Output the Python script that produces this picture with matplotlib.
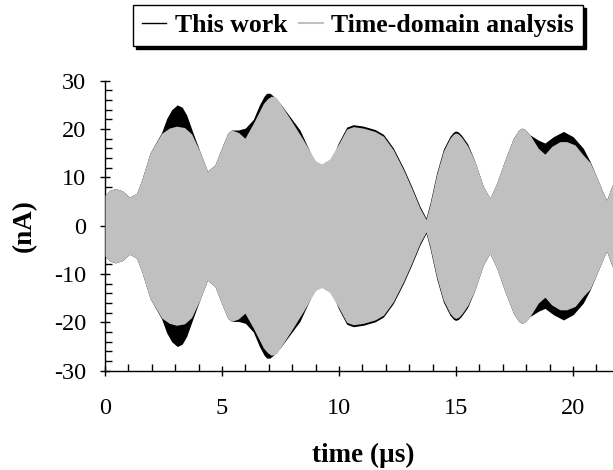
import matplotlib
matplotlib.use("Agg")
import matplotlib.pyplot as plt
from matplotlib.lines import Line2D
from matplotlib.ticker import MultipleLocator

# Upper envelope of the oscillating current (time in µs, current in nA).
# The waveform is symmetric, so the lower envelope is the negative of it.
t_work = [0.0, 0.2, 0.45, 0.75, 1.05, 1.35, 1.57, 1.92, 2.42, 2.64, 2.85,
          3.09, 3.3, 3.49, 3.77, 4.06, 4.38, 4.7, 5.06, 5.25, 5.41, 5.7,
          6.0, 6.34, 6.6, 6.8, 6.91, 7.05, 7.2, 7.5, 7.9, 8.33, 8.76,
          9.05, 9.33, 9.62, 9.97, 10.33, 10.61, 11.04, 11.54, 11.9, 12.32,
          12.75, 13.1, 13.46, 13.72, 13.89, 14.17, 14.46, 14.74, 14.88,
          14.98, 15.1, 15.24, 15.5, 15.81, 16.17, 16.45, 16.74, 17.09,
          17.45, 17.68, 17.81, 17.95, 18.16, 18.52, 18.8, 19.16, 19.59,
          20.01, 20.44, 20.73, 21.01, 21.3, 21.44, 21.65, 21.9]
i_work = [6.3, 7.3, 7.7, 7.2, 5.9, 6.7, 9.5, 15.0, 19.3, 22.2, 24.0,
          25.0, 24.5, 22.9, 19.1, 15.3, 11.3, 12.6, 17.0, 19.2, 19.8, 19.8,
          20.2, 22.0, 25.0, 26.8, 27.4, 27.4, 26.8, 25.2, 22.6, 19.8, 15.3,
          11.5, 9.1, 12.9, 17.1, 20.4, 20.9, 20.6, 19.9, 18.9, 16.1,
          12.0, 8.2, 4.0, 1.6, 4.7, 10.9, 15.8, 18.5, 19.3,
          19.6, 19.4, 18.7, 16.9, 13.3, 8.1, 5.7, 8.8, 13.6,
          18.1, 19.8, 20.2, 19.9, 18.8, 17.7, 17.1, 18.4, 19.5,
          18.4, 16.0, 13.3, 10.1, 6.7, 5.3, 8.1, 11.0]

t_tda = [0.0, 0.2, 0.45, 0.75, 1.05, 1.35, 1.57, 1.92, 2.42, 2.75, 3.06,
         3.4, 3.7, 4.06, 4.38, 4.7, 5.06, 5.25, 5.41, 5.7, 5.98, 6.34,
         6.77, 6.95, 7.1, 7.25, 7.34, 7.9, 8.48, 9.0, 9.26, 9.6, 9.97,
         10.33, 10.61, 11.04, 11.54, 11.9, 12.32, 12.75, 13.1, 13.46,
         13.72, 13.89, 14.17, 14.46, 14.74, 14.88, 14.98, 15.1, 15.24,
         15.5, 15.81, 16.17, 16.45, 16.74, 17.09, 17.45, 17.68, 17.81,
         17.95, 18.16, 18.52, 18.8, 19.09, 19.44, 19.73, 20.09, 20.44,
         20.73, 21.01, 21.3, 21.44, 21.65, 21.9]
i_tda = [6.3, 7.3, 7.7, 7.2, 5.9, 6.7, 9.5, 15.0, 19.1, 20.2, 20.6,
         20.3, 19.0, 15.3, 11.3, 12.6, 17.0, 19.2, 19.8, 19.3, 18.1, 21.2,
         25.3, 26.3, 26.8, 26.7, 26.4, 22.2, 17.7, 13.4, 12.8, 13.8, 16.8,
         20.0, 20.5, 20.2, 19.5, 18.5, 15.7, 11.6, 7.8, 3.6,
         1.3, 4.3, 10.5, 15.4, 18.1, 18.9, 19.2, 19.0, 18.3,
         16.5, 13.3, 8.1, 5.7, 8.8, 13.6, 18.1, 19.8, 20.2,
         19.9, 18.8, 16.0, 14.8, 16.4, 17.4, 17.4, 16.7, 14.6,
         13.1, 10.1, 6.7, 5.3, 8.1, 11.0]

labels = ["This work", "Time-domain analysis"]
colors = ["black", "#c0c0c0"]

plt.rcParams["font.family"] = ["Liberation Serif", "DejaVu Serif"]
plt.rcParams["axes.unicode_minus"] = False

fig = plt.figure(figsize=(6.13, 4.70), dpi=100)
# the time axis runs on past the right edge of the figure
ax = fig.add_axes([105 / 613, 99.3 / 470, 561.6 / 613, 290 / 470])

ax.fill_between(t_work, [-v for v in i_work], i_work,
                color=colors[0], lw=0, zorder=2)
ax.fill_between(t_tda, [-v for v in i_tda], i_tda,
                color=colors[1], lw=0, zorder=3)

ax.set_xlim(0, 24)
ax.set_ylim(-30, 30)
ax.xaxis.set_major_locator(MultipleLocator(5))
ax.xaxis.set_minor_locator(MultipleLocator(1))
ax.yaxis.set_major_locator(MultipleLocator(10))
ax.yaxis.set_minor_locator(MultipleLocator(2))

for side in ("top", "right"):
    ax.spines[side].set_visible(False)
for side in ("left", "bottom"):
    ax.spines[side].set_linewidth(1.0)

ax.tick_params(which="major", direction="inout", length=7.5, width=1.0,
               labelsize=17.5)
ax.tick_params(which="minor", direction="in", length=5, width=1.0)
ax.tick_params(axis="x", which="major", pad=16)
ax.tick_params(axis="y", which="major", pad=10)

fig.text(363 / 613, 1 - 455 / 470, "time (µs)", ha="center", va="center",
         fontsize=19.5, fontweight="bold")
fig.text(24 / 613, 1 - 225.7 / 470, "(nA)", ha="center", va="center",
         rotation=90, fontsize=19.5, fontweight="bold")

handles = [Line2D([], [], color=colors[0], lw=1.0),
           Line2D([], [], color=colors[1], lw=1.5)]
fig.legend(handles, labels, loc="upper right",
           bbox_to_anchor=(583 / 613, 1 - 5 / 470), ncol=2,
           frameon=True, fancybox=False, framealpha=1, edgecolor="black",
           shadow={"color": "black", "alpha": 1},
           prop={"weight": "bold", "size": 18.5},
           handlelength=0.93, handletextpad=0.34, columnspacing=0.43,
           borderpad=0.35, borderaxespad=0)

fig.savefig("out.png", dpi=100)
